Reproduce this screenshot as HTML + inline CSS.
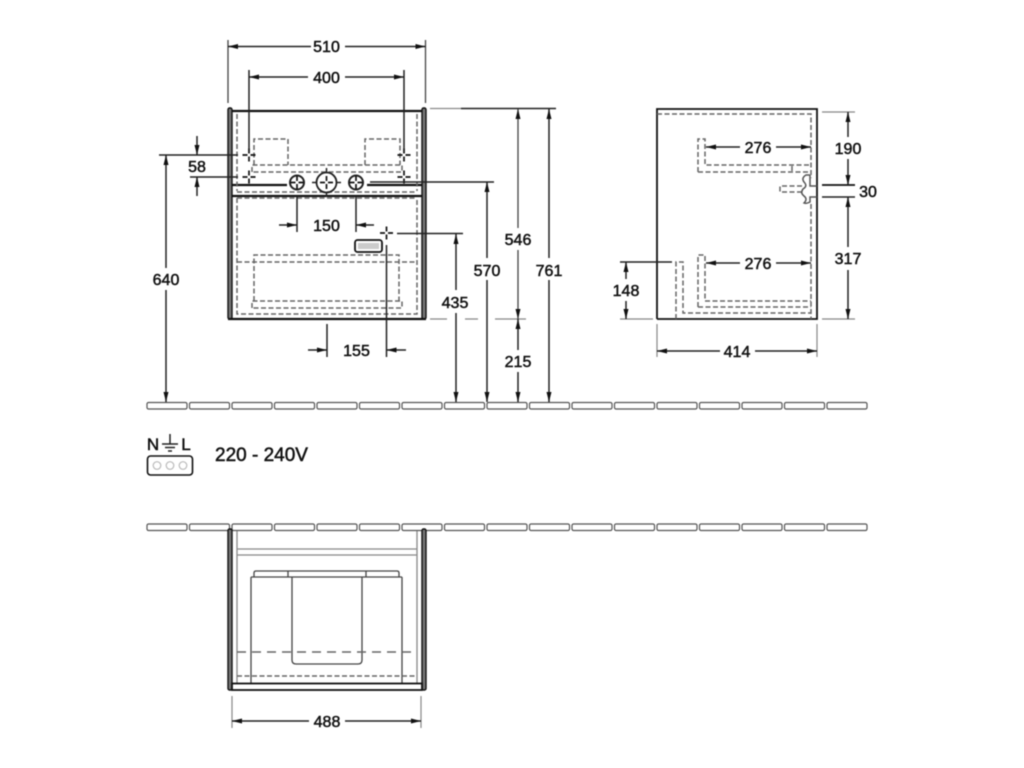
<!DOCTYPE html>
<html><head><meta charset="utf-8"><style>
html,body{margin:0;padding:0;background:#fff}
svg{display:block;filter:blur(.4px)}
text{font-family:"Liberation Sans",sans-serif;font-size:16px;fill:#111;text-anchor:middle;stroke:#111;stroke-width:.5}
.k{stroke:#222;stroke-width:1.500;fill:none}
.t{stroke:#111;stroke-width:2.200;fill:none}
.l{stroke:#444;stroke-width:1.300;fill:none}
.d{stroke:#666;stroke-width:1.500;fill:none;stroke-dasharray:5 2.5}
.g{stroke:#888;stroke-width:1.200;fill:none}
</style></head><body>
<svg width="1024" height="768" viewBox="0 0 1024 768" xmlns="http://www.w3.org/2000/svg">
<defs>
<marker id="a" markerUnits="userSpaceOnUse" markerWidth="11" markerHeight="7" refX="10" refY="3.500" orient="auto-start-reverse"><path d="M0 1L10 3.500L0 6z" fill="#111"/></marker>
<g id="row">
<rect x="147" width="40" height="6.5" rx="1.5"/><rect x="189.500" width="40" height="6.5" rx="1.5"/><rect x="232" width="40" height="6.5" rx="1.5"/><rect x="274.500" width="40" height="6.5" rx="1.5"/><rect x="317" width="40" height="6.5" rx="1.5"/><rect x="359.500" width="40" height="6.5" rx="1.5"/><rect x="402" width="40" height="6.5" rx="1.5"/><rect x="444.500" width="40" height="6.5" rx="1.5"/><rect x="487" width="40" height="6.5" rx="1.5"/><rect x="529.500" width="40" height="6.5" rx="1.5"/><rect x="572" width="40" height="6.5" rx="1.5"/><rect x="614.500" width="40" height="6.5" rx="1.5"/><rect x="657" width="40" height="6.5" rx="1.5"/><rect x="699.500" width="40" height="6.5" rx="1.5"/><rect x="742" width="40" height="6.5" rx="1.5"/><rect x="784.500" width="40" height="6.5" rx="1.5"/><rect x="827" width="40" height="6.5" rx="1.5"/>
</g>
<g id="cross"><path d="M-6.500 0H-1.500M1.500 0H6.500M0 -6.500V-1.500M0 1.500V6.500" stroke="#111" stroke-width="1.700" fill="none"/></g>
</defs>
<rect width="1024" height="768" fill="#fff"/>

<!-- floors -->
<use href="#row" y="402.500" fill="#fff" stroke="#555" stroke-width="1.200"/>
<use href="#row" y="524" fill="#fff" stroke="#555" stroke-width="1.200"/>

<!-- front cabinet -->
<rect x="228" y="108" width="4" height="211" rx="1.500" fill="#777" stroke="#111" stroke-width="1.400"/>
<rect x="422" y="108" width="4" height="211" rx="1.500" fill="#777" stroke="#111" stroke-width="1.400"/>
<path class="t" d="M232 111H422M232 185H287M367 185H422M232 196H422M228 319H426"/>
<path class="d" d="M237 114V191M417 114V191M237 192H417M237 198V314H417V198M237 198H417"/>
<path class="d" d="M254 165V139H288V165M365 165V139H400V165M252 172V165H402V172H252"/>
<path class="d" d="M237 262H417M254 301V255H399V301M252 308V301H402V308H252"/>
<use href="#cross" x="249" y="155"/><use href="#cross" x="404" y="155"/>
<use href="#cross" x="249" y="177"/><use href="#cross" x="404" y="177"/>
<circle cx="297" cy="182.500" r="7" class="k" style="stroke-width:2"/><use href="#cross" x="297" y="182.500"/>
<circle cx="326.500" cy="182.500" r="10" class="k" style="stroke-width:1.800"/><use href="#cross" x="326.500" y="182.500"/><path class="k" d="M326.500 168V197M312 182.500H341" stroke-dasharray="5 19 5"/>
<circle cx="356" cy="182.500" r="7" class="k" style="stroke-width:2"/><use href="#cross" x="356" y="182.500"/>
<use href="#cross" x="386.500" y="233"/>
<rect x="355" y="240" width="27" height="12" rx="2.500" fill="#fff" stroke="#111" stroke-width="1.800"/>
<rect x="358" y="243" width="21" height="6" fill="#ccc"/>

<!-- top dims -->
<path class="l" d="M228 40V103M425.500 40V103"/>
<line class="k" x1="311" y1="46.500" x2="228" y2="46.500" marker-end="url(#a)"/><line class="k" x1="345" y1="46.500" x2="425.500" y2="46.500" marker-end="url(#a)"/>
<text x="326.500" y="52">510</text>
<path class="k" d="M249 70V152M404 70V152"/>
<line class="k" x1="308" y1="77" x2="249" y2="77" marker-end="url(#a)"/><line class="k" x1="345" y1="77" x2="404" y2="77" marker-end="url(#a)"/>
<text x="326.500" y="83">400</text>

<!-- 58 / 640 -->
<path class="k" d="M159 155H238M190 177H238"/>
<line class="k" x1="197" y1="136" x2="197" y2="155" marker-end="url(#a)"/><line class="k" x1="197" y1="196" x2="197" y2="177" marker-end="url(#a)"/>
<text x="197" y="172">58</text>
<line class="k" x1="166" y1="268" x2="166" y2="155" marker-end="url(#a)"/><line class="k" x1="166" y1="290" x2="166" y2="402" marker-end="url(#a)"/>
<text x="166" y="285">640</text>

<!-- 150 -->
<path class="k" d="M297 196V232M356 196V232"/>
<line class="k" x1="279" y1="225" x2="297" y2="225" marker-end="url(#a)"/><line class="k" x1="374" y1="225" x2="356" y2="225" marker-end="url(#a)"/>
<text x="326.500" y="231">150</text>

<!-- 155 -->
<path class="k" d="M327 324V357M386.500 245V357"/>
<line class="k" x1="308" y1="350" x2="327" y2="350" marker-end="url(#a)"/><line class="k" x1="406" y1="350" x2="386.500" y2="350" marker-end="url(#a)"/>
<text x="356.500" y="356">155</text>

<!-- right dims -->
<path class="g" d="M430 108.500H461"/>
<path class="k" d="M461 108.500H556M370 182H494M397 233.500H463"/>
<path class="g" d="M430 319H447M465 319H478M495 319H526"/>
<line class="k" x1="456" y1="290" x2="456" y2="234" marker-end="url(#a)"/><line class="k" x1="456" y1="313" x2="456" y2="402" marker-end="url(#a)"/>
<text x="455" y="308">435</text>
<line class="k" x1="487" y1="258" x2="487" y2="182" marker-end="url(#a)"/><line class="k" x1="487" y1="280" x2="487" y2="402" marker-end="url(#a)"/>
<text x="487" y="276">570</text>
<line class="l" x1="518" y1="228" x2="518" y2="109" marker-end="url(#a)"/><line class="l" x1="518" y1="250" x2="518" y2="319" marker-end="url(#a)"/>
<text x="518" y="245">546</text>
<line class="k" x1="518" y1="350" x2="518" y2="319" marker-end="url(#a)"/><line class="k" x1="518" y1="372" x2="518" y2="402" marker-end="url(#a)"/>
<text x="518" y="367">215</text>
<line class="k" x1="549" y1="258" x2="549" y2="109" marker-end="url(#a)"/><line class="k" x1="549" y1="280" x2="549" y2="402" marker-end="url(#a)"/>
<text x="549" y="276">761</text>

<!-- side view -->
<path class="t" d="M657 319V109H817V319H657" style="stroke-width:1.800"/>
<path class="d" d="M657 114H811V178M811 204V319"/>
<path class="d" d="M698 172V139H705V165H811M698 172H811M792 166V172"/>
<path class="d" d="M698 307V255H705V301H811M698 307H811"/>
<path class="d" d="M676 319V262H683V313H811"/>
<path class="d" d="M802 186H780V192H802"/>
<path class="k" d="M810 175H806Q801 178 804 182Q808 186 803 189Q800 193 804 196Q808 199 804 203Q806 204 810 202V197H817M810 175V186H817" style="stroke:#555"/>
<line class="k" x1="740" y1="147" x2="706" y2="147" marker-end="url(#a)"/><line class="k" x1="776" y1="147" x2="811" y2="147" marker-end="url(#a)"/>
<text x="758" y="153">276</text>
<line class="k" x1="740" y1="263" x2="706" y2="263" marker-end="url(#a)"/><line class="k" x1="776" y1="263" x2="811" y2="263" marker-end="url(#a)"/>
<text x="758" y="269">276</text>
<path class="g" d="M822 112H855M822 319H855"/>
<path class="t" d="M822 185H855" style="stroke-width:1.800"/><path class="k" d="M822 197H855"/>
<line class="k" x1="848" y1="137" x2="848" y2="112" marker-end="url(#a)"/><line class="k" x1="848" y1="159" x2="848" y2="185" marker-end="url(#a)"/>
<text x="848" y="154">190</text>
<line class="k" x1="848" y1="247" x2="848" y2="197" marker-end="url(#a)"/><line class="k" x1="848" y1="270" x2="848" y2="319" marker-end="url(#a)"/>
<text x="848" y="264">317</text>
<text x="868" y="197">30</text>
<path class="k" d="M620 262H672"/><path class="g" d="M620 319H653"/>
<line class="k" x1="626" y1="279" x2="626" y2="262" marker-end="url(#a)"/><line class="k" x1="626" y1="301" x2="626" y2="319" marker-end="url(#a)"/>
<text x="626" y="296">148</text>
<path class="g" d="M657 324V357M817 324V357"/>
<line class="k" x1="720" y1="351" x2="657" y2="351" marker-end="url(#a)"/><line class="k" x1="755" y1="351" x2="817" y2="351" marker-end="url(#a)"/>
<text x="737" y="357">414</text>

<!-- legend -->
<text x="153" y="450" style="font-size:17px">N</text><text x="186" y="450" style="font-size:17px">L</text>
<path d="M170 434V444M162 444H178M165 447.500H175M168 451H172" stroke="#222" stroke-width="1.500" fill="none"/>
<rect x="147.500" y="456" width="45" height="19" rx="3" fill="#fff" stroke="#111" stroke-width="1.600"/>
<circle cx="157" cy="465.500" r="3.800" fill="none" stroke="#bbb" stroke-width="1.200"/><circle cx="170" cy="465.500" r="3.800" fill="none" stroke="#bbb" stroke-width="1.200"/><circle cx="183" cy="465.500" r="3.800" fill="none" stroke="#bbb" stroke-width="1.200"/>
<text x="215" y="461" style="text-anchor:start;font-size:19px">220 - 240V</text>

<!-- plan view -->
<rect x="228" y="529" width="4" height="161" rx="1.500" fill="#777" stroke="#111" stroke-width="1.400"/>
<rect x="422" y="529" width="4" height="161" rx="1.500" fill="#777" stroke="#111" stroke-width="1.400"/>
<path class="l" style="stroke:#888" d="M237 531V684M417 531V684M237 549H417M237 555H417"/>
<path class="l" d="M251 684V577M402 684V577M251 577H402M254 577V573Q254 571 256 571H397Q399 571 399 573V577M288 571V577M366 571V577"/>
<path class="l" d="M292 577V660Q292 664 296 664H358Q362 664 362 660V577"/>
<path class="d" style="stroke-dasharray:9 6" d="M237 652H417"/>
<path class="d" d="M237 676H417"/>
<rect x="232" y="683.500" width="190" height="6.500" fill="#fff" stroke="#111" stroke-width="1.800"/>
<path class="g" d="M232 696V728M421 696V728"/>
<line class="k" x1="309" y1="721" x2="232" y2="721" marker-end="url(#a)"/><line class="k" x1="345" y1="721" x2="421" y2="721" marker-end="url(#a)"/>
<text x="327" y="727">488</text>
</svg>
</body></html>
